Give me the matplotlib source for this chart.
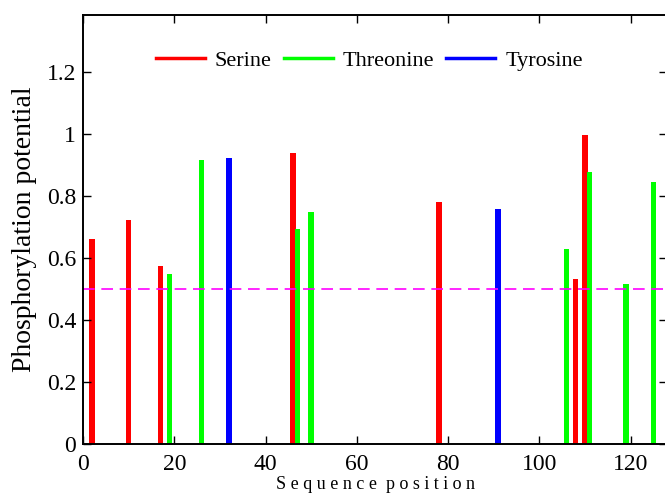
import numpy as np
import matplotlib
matplotlib.use("Agg")
import matplotlib.pyplot as plt
from matplotlib.ticker import FormatStrFormatter

plt.rcParams["font.family"] = ["Liberation Serif", "DejaVu Serif"]

# Sites
serine_pos = [2, 10, 17, 46, 78, 108, 110]
serine_val = [0.661, 0.723, 0.574, 0.939, 0.781, 0.532, 0.997]
threonine_pos = [19, 26, 47, 50, 106, 111, 119, 125]
threonine_val = [0.549, 0.916, 0.694, 0.748, 0.629, 0.877, 0.516, 0.845]
tyrosine_pos = [32, 91]
tyrosine_val = [0.923, 0.758]
threshold = 0.5

fig = plt.figure(figsize=(6.65, 4.96), dpi=100)
ax = fig.add_axes([83 / 665, 52 / 496, 584 / 665, 429 / 496])

w = 1.2
ax.bar(serine_pos, serine_val, width=w, color="#ff0000", linewidth=0)
ax.bar(threonine_pos, threonine_val, width=w, color="#00ff00", linewidth=0)
ax.bar(tyrosine_pos, tyrosine_val, width=w, color="#0000ff", linewidth=0)
ax.axhline(threshold, color="#ff00ff", linestyle=(0, (7, 4)), linewidth=1.2)

# legend handles
ax.plot([], [], color="#ff0000", lw=2.5, label="Serine")
ax.plot([], [], color="#00ff00", lw=2.5, label="Threonine")
ax.plot([], [], color="#0000ff", lw=2.5, label="Tyrosine")
ax.legend(loc="upper center", bbox_to_anchor=(0.49, 0.965), ncol=3, frameon=False,
          fontsize=16, handlelength=2.2, handletextpad=0.45, columnspacing=0.55)

ax.set_xlim(0, 128)
ax.set_ylim(0, 1.385)
ax.set_xticks([0, 20, 40, 60, 80, 100, 120])
ax.set_yticks([0, 0.2, 0.4, 0.6, 0.8, 1.0, 1.2])
ax.yaxis.set_major_formatter(FormatStrFormatter("%g"))
ax.tick_params(direction="in", length=6, width=1.0, top=True, right=True,
               labelsize=17, pad=5)
ax.tick_params(axis="x", pad=7)
for s in ax.spines.values():
    s.set_linewidth(1.4)

ax.set_ylabel("Phosphorylation potential", fontsize=20, labelpad=7)
ax.set_xlabel("  ".join(" ".join(wd) for wd in "Sequence position".split()),
              fontsize=13, labelpad=1)

fig.savefig("out.png", dpi=100)
